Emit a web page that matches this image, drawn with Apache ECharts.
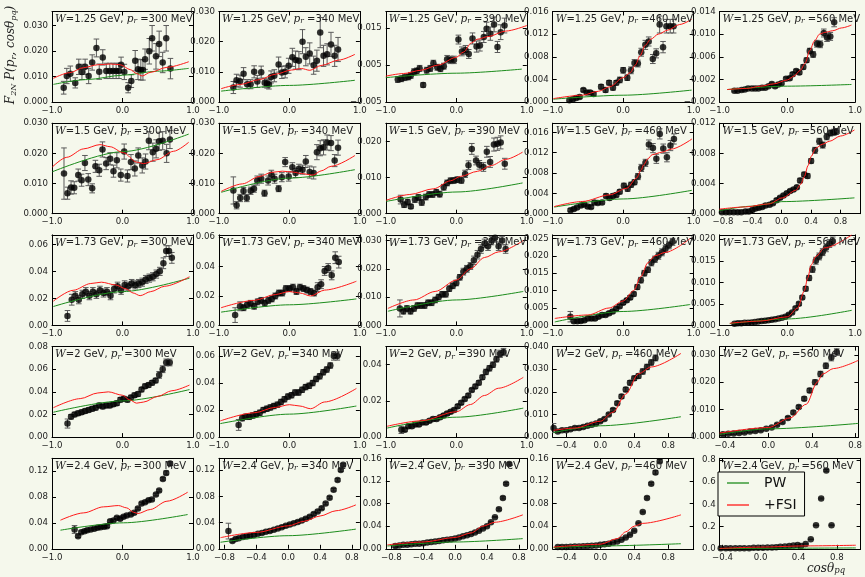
<!DOCTYPE html>
<html>
<head>
<meta charset="utf-8">
<script src="https://cdn.jsdelivr.net/npm/echarts@6/dist/echarts.min.js"></script>
<style>
html,body{margin:0;padding:0;background:#f5f8ec}
#chart{width:865px;height:577px}
</style>
</head>
<body>
<div id="chart"></div>
<script>
// Panel labels: rows are W, columns are p_r
const wLabels = ['1.25', '1.5', '1.73', '2', '2.4'];
const prLabels = ['300', '340', '390', '460', '560'];

// Tick sets
const T1 = [-1, 0, 1];
const T8 = [-0.8, -0.4, 0, 0.4, 0.8];
const T4 = [-0.4, 0, 0.4, 0.8];

const xTickValues = [
  T1, T1, T1, T1, T1,
  T1, T1, T1, T1, T8,
  T1, T1, T1, T1, T1,
  T1, T1, T1, T4, T4,
  T1, T8, T8, T4, T4
];
const xLimits = [
  [-1, 1], [-1, 1], [-1, 1], [-1, 1], [-1, 1],
  [-1, 1], [-1, 1], [-1, 1], [-1, 1], [-0.846, 1.074],
  [-1, 1], [-1, 1], [-1, 1], [-1, 1], [-1, 1],
  [-1, 1], [-1, 1], [-1, 1], [-0.56, 1.1], [-0.45, 0.83],
  [-1, 1], [-0.87, 0.9], [-0.87, 0.9], [-0.56, 1.1], [-0.43, 1.05]
];
const yTickValues = [
  [0, 0.01, 0.02, 0.03], [0, 0.01, 0.02, 0.03], [-0.005, 0.005, 0.015], [0, 0.004, 0.008, 0.012, 0.016], [-0.002, 0.002, 0.006, 0.01, 0.014],
  [0, 0.01, 0.02, 0.03], [0, 0.01, 0.02, 0.03], [0, 0.01, 0.02], [0, 0.004, 0.008, 0.012, 0.016], [0, 0.004, 0.008, 0.012],
  [0, 0.02, 0.04, 0.06], [0, 0.02, 0.04, 0.06], [0, 0.01, 0.02, 0.03], [0, 0.005, 0.01, 0.015, 0.02, 0.025], [0, 0.005, 0.01, 0.015, 0.02],
  [0, 0.02, 0.04, 0.06, 0.08], [0, 0.02, 0.04, 0.06], [0, 0.02, 0.04], [0, 0.01, 0.02, 0.03, 0.04], [0, 0.01, 0.02, 0.03],
  [0, 0.04, 0.08, 0.12], [0, 0.04, 0.08, 0.12], [0, 0.04, 0.08, 0.12, 0.16], [0, 0.04, 0.08, 0.12, 0.16], [0, 0.2, 0.4, 0.6, 0.8]
];
const yLimits = [
  [0, 0.0355], [0, 0.03], [-0.005, 0.0195], [0, 0.016], [-0.002, 0.014],
  [0, 0.03], [0, 0.03], [0, 0.025], [0, 0.0178], [0, 0.012],
  [0, 0.067], [0, 0.0615], [0, 0.032], [0, 0.026], [0, 0.021],
  [0, 0.08], [0, 0.067], [0, 0.05], [0, 0.04], [0, 0.033],
  [0, 0.14], [0, 0.138], [0, 0.16], [0, 0.16], [0, 0.815]
];
const yDecimals = [
  3, 3, 3, 3, 3,
  3, 3, 3, 3, 3,
  2, 2, 3, 3, 3,
  2, 2, 2, 3, 3,
  2, 2, 2, 2, 1
];

// Measured points: [cos theta_pq, value, error]
const obs_125_300 = [[-0.834,0.0056,0.0025],[-0.79,0.0102,0.003],[-0.74,0.0111,0.003],[-0.67,0.0075,0.002],[-0.62,0.0138,0.003],[-0.575,0.0118,0.003],[-0.53,0.0138,0.003],[-0.48,0.0102,0.003],[-0.43,0.0155,0.003],[-0.37,0.0212,0.0035],[-0.33,0.0119,0.003],[-0.28,0.0175,0.003],[-0.23,0.0122,0.003],[-0.18,0.0122,0.003],[-0.135,0.0122,0.003],[-0.09,0.0122,0.003],[-0.05,0.0122,0.003],[-0.02,0.0146,0.003],[0.026,0.0118,0.003],[0.08,0.0056,0.002],[0.125,0.0082,0.0025],[0.18,0.0162,0.004],[0.22,0.0128,0.004],[0.26,0.0126,0.004],[0.29,0.0126,0.004],[0.32,0.0168,0.004],[0.38,0.0199,0.005],[0.42,0.025,0.005],[0.475,0.0179,0.005],[0.52,0.0228,0.005],[0.57,0.0155,0.004],[0.62,0.025,0.005],[0.68,0.0131,0.004]];
const obs_125_340 = [[-0.795,0.0048,0.002],[-0.75,0.0072,0.002],[-0.7,0.0069,0.002],[-0.65,0.0094,0.002],[-0.6,0.0059,0.0015],[-0.55,0.0059,0.0015],[-0.5,0.01,0.002],[-0.455,0.0068,0.002],[-0.4,0.0099,0.002],[-0.35,0.0064,0.0015],[-0.316,0.0061,0.0015],[-0.29,0.0058,0.0015],[-0.26,0.0083,0.002],[-0.214,0.0087,0.002],[-0.153,0.0124,0.0025],[-0.107,0.0098,0.002],[-0.06,0.01,0.002],[-0.01,0.012,0.0025],[0.042,0.0148,0.003],[0.088,0.0139,0.003],[0.135,0.0137,0.003],[0.186,0.02,0.004],[0.233,0.015,0.003],[0.288,0.0161,0.0035],[0.344,0.0122,0.003],[0.39,0.0137,0.0035],[0.437,0.023,0.005],[0.484,0.0153,0.0035],[0.535,0.0158,0.0035],[0.59,0.0191,0.004],[0.642,0.0153,0.0035],[0.69,0.0174,0.004]];
const obs_125_390 = [[-0.83,0.0011,0.0008],[-0.78,0.0013,0.0008],[-0.73,0.0016,0.0008],[-0.68,0.0018,0.0008],[-0.646,0.0022,0.0008],[-0.6,0.0032,0.0008],[-0.56,0.0034,0.0008],[-0.52,0.0041,0.0008],[-0.47,-0.0004,0.0006],[-0.42,0.0036,0.0008],[-0.37,0.0041,0.0008],[-0.325,0.0055,0.0008],[-0.27,0.0044,0.0008],[-0.225,0.004,0.0008],[-0.177,0.0047,0.0008],[-0.13,0.0066,0.001],[-0.08,0.0064,0.001],[-0.033,0.0064,0.001],[0.03,0.0119,0.0012],[0.08,0.0087,0.0012],[0.13,0.0091,0.0012],[0.177,0.008,0.0012],[0.23,0.0122,0.0015],[0.287,0.01,0.0015],[0.335,0.0103,0.0015],[0.39,0.0126,0.0015],[0.43,0.0148,0.0018],[0.483,0.0135,0.0018],[0.536,0.016,0.002],[0.584,0.0099,0.0015],[0.63,0.0139,0.002],[0.684,0.0157,0.002]];
const obs_125_460 = [[-0.763,0.0003,0.0003],[-0.715,0.0005,0.0003],[-0.667,0.0007,0.0003],[-0.618,0.0009,0.0003],[-0.565,0.0021,0.0003],[-0.517,0.0017,0.0003],[-0.47,0.0017,0.0003],[-0.42,0.0014,0.0003],[-0.314,0.0027,0.0004],[-0.25,0.0021,0.0004],[-0.2,0.0034,0.0004],[-0.145,0.0025,0.0004],[-0.097,0.0034,0.0004],[-0.048,0.0039,0.0005],[0,0.0056,0.0005],[0.058,0.0043,0.0005],[0.11,0.0056,0.0006],[0.16,0.0069,0.0006],[0.208,0.0068,0.0006],[0.256,0.0088,0.0007],[0.314,0.0101,0.0008],[0.362,0.0107,0.0008],[0.42,0.0076,0.0008],[0.468,0.0086,0.0008],[0.517,0.0137,0.0015],[0.565,0.0097,0.001],[0.613,0.0134,0.0012],[0.667,0.0134,0.0012],[0.715,0.0134,0.0012]];
const obs_125_560 = [[-0.782,0,0.0002],[-0.734,0,0.0002],[-0.676,0.0001,0.0002],[-0.628,0.0002,0.0002],[-0.58,0.0004,0.0002],[-0.523,0.0004,0.0002],[-0.475,0.0004,0.0002],[-0.427,0.0004,0.0002],[-0.374,0.0005,0.0002],[-0.326,0.0005,0.0002],[-0.278,0.0008,0.0002],[-0.23,0.0012,0.0003],[-0.182,0.0008,0.0003],[-0.134,0.0011,0.0003],[-0.086,0.0013,0.0003],[-0.02,0.0021,0.0003],[0.034,0.0022,0.0003],[0.077,0.0029,0.0003],[0.13,0.0035,0.0003],[0.177,0.0032,0.0003],[0.235,0.0042,0.0004],[0.283,0.0054,0.0004],[0.33,0.007,0.0005],[0.38,0.0064,0.0005],[0.436,0.0083,0.0006],[0.484,0.0082,0.0006],[0.537,0.0102,0.0007],[0.585,0.0094,0.0007],[0.633,0.0096,0.0007],[0.69,0.0121,0.0008]];

const obs_15_300 = [[-0.83,0.0133,0.0085],[-0.78,0.0068,0.002],[-0.73,0.0087,0.0022],[-0.685,0.0086,0.002],[-0.628,0.0128,0.002],[-0.58,0.0111,0.002],[-0.533,0.0168,0.0025],[-0.486,0.0113,0.002],[-0.43,0.0084,0.0015],[-0.384,0.0157,0.002],[-0.33,0.0144,0.002],[-0.284,0.0213,0.0025],[-0.232,0.0166,0.002],[-0.175,0.0182,0.002],[-0.128,0.0141,0.002],[-0.08,0.0177,0.0025],[-0.024,0.0128,0.002],[0.024,0.0206,0.0025],[0.07,0.0125,0.002],[0.12,0.0171,0.0025],[0.175,0.015,0.0025],[0.223,0.0193,0.0025],[0.28,0.016,0.0025],[0.327,0.0173,0.0025],[0.374,0.0242,0.003],[0.43,0.0204,0.003],[0.477,0.0215,0.003],[0.52,0.024,0.003],[0.57,0.0242,0.003],[0.626,0.02,0.003],[0.673,0.0246,0.003]];
const obs_15_340 = [[-0.795,0.0077,0.0045],[-0.749,0.0028,0.0012],[-0.698,0.0052,0.0012],[-0.651,0.0075,0.0012],[-0.605,0.0052,0.0012],[-0.549,0.0076,0.0012],[-0.502,0.0083,0.0012],[-0.456,0.011,0.0015],[-0.4,0.0116,0.0015],[-0.353,0.0068,0.001],[-0.302,0.011,0.0015],[-0.256,0.0129,0.0015],[-0.21,0.0116,0.0015],[-0.153,0.0083,0.001],[-0.107,0.0121,0.0015],[-0.06,0.0171,0.0015],[-0.01,0.0123,0.0015],[0.042,0.0154,0.0015],[0.088,0.0135,0.0015],[0.135,0.0149,0.0015],[0.186,0.0146,0.0015],[0.233,0.0173,0.002],[0.288,0.0138,0.002],[0.344,0.0135,0.002],[0.39,0.0204,0.0025],[0.437,0.0217,0.0025],[0.484,0.022,0.0025],[0.535,0.0236,0.0025],[0.59,0.0234,0.0025],[0.642,0.0176,0.002],[0.69,0.0219,0.0025]];
const obs_15_390 = [[-0.79,0.0039,0.0012],[-0.74,0.0025,0.0008],[-0.69,0.0032,0.0008],[-0.645,0.002,0.0006],[-0.587,0.0039,0.0008],[-0.538,0.0045,0.0008],[-0.49,0.0031,0.0008],[-0.433,0.0046,0.0008],[-0.385,0.0053,0.0008],[-0.336,0.0053,0.0008],[-0.284,0.0059,0.0008],[-0.236,0.0054,0.0008],[-0.178,0.0073,0.0008],[-0.13,0.0085,0.0008],[-0.082,0.0091,0.0008],[-0.034,0.0092,0.0008],[0.014,0.0094,0.0008],[0.072,0.0092,0.0008],[0.125,0.011,0.001],[0.173,0.0134,0.0012],[0.22,0.0179,0.0015],[0.28,0.0147,0.0012],[0.327,0.0135,0.0012],[0.385,0.0129,0.0012],[0.433,0.0171,0.0015],[0.48,0.0143,0.0015],[0.534,0.0191,0.0018],[0.582,0.0193,0.0018],[0.63,0.0197,0.0018],[0.688,0.0138,0.0015]];
const obs_15_460 = [[-0.748,0.0007,0.0003],[-0.7,0.0009,0.0003],[-0.655,0.0012,0.0003],[-0.6,0.0016,0.0003],[-0.553,0.0018,0.0003],[-0.505,0.0014,0.0003],[-0.456,0.0013,0.0003],[-0.408,0.0022,0.0003],[-0.36,0.0021,0.0003],[-0.3,0.0022,0.0003],[-0.243,0.0035,0.0004],[-0.194,0.0031,0.0004],[-0.146,0.0035,0.0004],[-0.097,0.0037,0.0004],[-0.049,0.0043,0.0004],[0.01,0.0055,0.0005],[0.063,0.0049,0.0005],[0.112,0.0057,0.0005],[0.16,0.0062,0.0005],[0.209,0.0073,0.0006],[0.257,0.009,0.0007],[0.316,0.01,0.0007],[0.364,0.0136,0.0009],[0.422,0.0129,0.0009],[0.47,0.0108,0.0009],[0.519,0.0157,0.001],[0.568,0.0128,0.0009],[0.62,0.0111,0.0009],[0.67,0.0134,0.001],[0.72,0.0147,0.001]];
const obs_15_560 = [[-0.814,0.0002,0.0002],[-0.76,0.0002,0.0002],[-0.71,0.0002,0.0002],[-0.654,0.0002,0.0002],[-0.6,0.0002,0.0002],[-0.55,0.0002,0.0002],[-0.494,0.0003,0.0002],[-0.448,0.0003,0.0002],[-0.4,0.0005,0.0002],[-0.357,0.0007,0.0002],[-0.31,0.0008,0.0002],[-0.265,0.0009,0.0002],[-0.22,0.0011,0.0002],[-0.165,0.0012,0.0002],[-0.12,0.0014,0.0002],[-0.07,0.0018,0.0002],[-0.023,0.0021,0.0002],[0.023,0.0024,0.0002],[0.069,0.0027,0.0002],[0.114,0.003,0.0002],[0.16,0.0032,0.0002],[0.206,0.0035,0.0002],[0.25,0.0044,0.0003],[0.306,0.0052,0.0003],[0.352,0.005,0.0003],[0.4,0.007,0.0003],[0.453,0.0084,0.0004],[0.512,0.0096,0.0004],[0.558,0.0091,0.0004],[0.613,0.0102,0.0004],[0.663,0.0107,0.0004],[0.71,0.0108,0.0004],[0.74,0.0109,0.0004]];

const obs_173_300 = [[-0.78,0.007,0.004],[-0.72,0.019,0.004],[-0.67,0.022,0.003],[-0.62,0.019,0.003],[-0.57,0.023,0.003],[-0.52,0.025,0.003],[-0.47,0.022,0.003],[-0.42,0.025,0.003],[-0.37,0.023,0.003],[-0.32,0.026,0.003],[-0.27,0.024,0.003],[-0.22,0.025,0.003],[-0.17,0.022,0.003],[-0.12,0.027,0.003],[-0.07,0.029,0.003],[-0.02,0.026,0.003],[0.03,0.03,0.003],[0.08,0.029,0.003],[0.13,0.031,0.003],[0.18,0.03,0.003],[0.23,0.031,0.003],[0.28,0.032,0.003],[0.33,0.034,0.003],[0.38,0.035,0.003],[0.43,0.036,0.003],[0.48,0.038,0.003],[0.53,0.04,0.003],[0.58,0.046,0.004],[0.62,0.055,0.004],[0.66,0.055,0.004],[0.7,0.05,0.004]];
const obs_173_340 = [[-0.77,0.007,0.005],[-0.7,0.013,0.003],[-0.65,0.012,0.002],[-0.6,0.014,0.002],[-0.55,0.015,0.002],[-0.5,0.013,0.002],[-0.45,0.016,0.002],[-0.4,0.017,0.002],[-0.35,0.015,0.002],[-0.3,0.017,0.002],[-0.25,0.018,0.002],[-0.2,0.02,0.002],[-0.15,0.022,0.002],[-0.1,0.022,0.002],[-0.05,0.025,0.002],[0,0.025,0.002],[0.05,0.026,0.002],[0.1,0.023,0.002],[0.15,0.026,0.002],[0.2,0.025,0.002],[0.25,0.024,0.002],[0.3,0.023,0.002],[0.35,0.022,0.002],[0.4,0.026,0.003],[0.45,0.028,0.003],[0.5,0.037,0.003],[0.55,0.039,0.003],[0.6,0.034,0.003],[0.65,0.046,0.004],[0.7,0.043,0.004]];
const obs_173_390 = [[-0.8,0.006,0.003],[-0.75,0.005,0.001],[-0.7,0.006,0.001],[-0.65,0.005,0.001],[-0.6,0.006,0.001],[-0.55,0.007,0.001],[-0.5,0.007,0.001],[-0.45,0.007,0.001],[-0.4,0.008,0.001],[-0.35,0.008,0.001],[-0.3,0.009,0.001],[-0.25,0.01,0.001],[-0.2,0.011,0.001],[-0.15,0.011,0.001],[-0.1,0.013,0.001],[-0.05,0.014,0.001],[0,0.015,0.001],[0.05,0.017,0.001],[0.1,0.019,0.0012],[0.15,0.02,0.0012],[0.2,0.021,0.0012],[0.25,0.023,0.0015],[0.3,0.025,0.0015],[0.35,0.027,0.0015],[0.4,0.029,0.0015],[0.45,0.028,0.0015],[0.5,0.03,0.0015],[0.55,0.031,0.0015],[0.6,0.028,0.0015],[0.65,0.03,0.0015],[0.7,0.027,0.0015]];
const obs_173_460 = [[-0.75,0.0025,0.0015],[-0.7,0.0012,0.0005],[-0.65,0.0012,0.0005],[-0.6,0.0013,0.0005],[-0.55,0.0015,0.0005],[-0.5,0.002,0.0005],[-0.45,0.002,0.0005],[-0.4,0.002,0.0005],[-0.35,0.0025,0.0005],[-0.3,0.003,0.0005],[-0.25,0.003,0.0005],[-0.2,0.0035,0.0005],[-0.15,0.004,0.0005],[-0.1,0.0048,0.0005],[-0.05,0.0055,0.0005],[0,0.0065,0.0005],[0.05,0.0072,0.0005],[0.1,0.008,0.0006],[0.15,0.009,0.0006],[0.2,0.011,0.0007],[0.25,0.013,0.0008],[0.3,0.015,0.0008],[0.35,0.016,0.0008],[0.4,0.018,0.0009],[0.45,0.019,0.0009],[0.5,0.02,0.001],[0.55,0.021,0.001],[0.6,0.022,0.001],[0.65,0.023,0.001],[0.7,0.024,0.001]];
const obs_173_560 = [[-0.78,0.0004,0.0002],[-0.73,0.0005,0.0002],[-0.68,0.0005,0.0002],[-0.63,0.0006,0.0002],[-0.58,0.0006,0.0002],[-0.53,0.0007,0.0002],[-0.48,0.0008,0.0002],[-0.43,0.0009,0.0002],[-0.38,0.001,0.0002],[-0.33,0.0011,0.0002],[-0.28,0.0012,0.0002],[-0.23,0.0013,0.0002],[-0.18,0.0014,0.0002],[-0.13,0.0016,0.0002],[-0.08,0.0018,0.0002],[-0.03,0.002,0.0002],[0.02,0.0025,0.0003],[0.07,0.003,0.0003],[0.12,0.004,0.0003],[0.17,0.005,0.0004],[0.22,0.0065,0.0004],[0.27,0.0085,0.0005],[0.32,0.011,0.0006],[0.37,0.013,0.0007],[0.42,0.015,0.0008],[0.47,0.016,0.0008],[0.52,0.017,0.0008],[0.57,0.018,0.0009],[0.62,0.019,0.0009],[0.67,0.0195,0.001]];

const obs_2_300 = [[-0.78,0.012,0.004],[-0.73,0.018,0.002],[-0.68,0.02,0.002],[-0.63,0.021,0.002],[-0.58,0.022,0.002],[-0.53,0.023,0.002],[-0.48,0.024,0.002],[-0.43,0.025,0.002],[-0.38,0.026,0.002],[-0.33,0.028,0.002],[-0.28,0.027,0.002],[-0.23,0.028,0.002],[-0.18,0.028,0.002],[-0.13,0.029,0.002],[-0.08,0.03,0.002],[-0.03,0.033,0.002],[0.02,0.034,0.002],[0.07,0.033,0.002],[0.12,0.035,0.002],[0.17,0.037,0.002],[0.22,0.038,0.002],[0.27,0.042,0.002],[0.32,0.045,0.002],[0.37,0.046,0.002],[0.42,0.048,0.002],[0.47,0.05,0.002],[0.52,0.055,0.003],[0.57,0.06,0.003],[0.62,0.066,0.003],[0.67,0.066,0.003]];
const obs_2_340 = [[-0.72,0.009,0.004],[-0.67,0.014,0.002],[-0.62,0.015,0.002],[-0.57,0.015,0.002],[-0.52,0.016,0.002],[-0.47,0.017,0.002],[-0.42,0.018,0.002],[-0.37,0.02,0.002],[-0.32,0.021,0.002],[-0.27,0.022,0.002],[-0.22,0.023,0.002],[-0.17,0.024,0.002],[-0.12,0.026,0.002],[-0.07,0.028,0.002],[-0.02,0.03,0.002],[0.03,0.031,0.002],[0.08,0.033,0.002],[0.13,0.033,0.002],[0.18,0.035,0.002],[0.23,0.037,0.002],[0.28,0.038,0.002],[0.33,0.04,0.002],[0.38,0.043,0.002],[0.43,0.045,0.002],[0.48,0.048,0.002],[0.53,0.05,0.002],[0.58,0.053,0.002],[0.63,0.06,0.003],[0.68,0.06,0.003]];
const obs_2_390 = [[-0.78,0.004,0.002],[-0.73,0.004,0.001],[-0.68,0.006,0.001],[-0.63,0.006,0.001],[-0.58,0.007,0.001],[-0.53,0.007,0.001],[-0.48,0.008,0.001],[-0.43,0.008,0.001],[-0.38,0.009,0.001],[-0.33,0.01,0.001],[-0.28,0.01,0.001],[-0.23,0.011,0.001],[-0.18,0.012,0.001],[-0.13,0.013,0.001],[-0.08,0.014,0.001],[-0.03,0.015,0.001],[0.02,0.017,0.001],[0.07,0.019,0.001],[0.12,0.021,0.001],[0.17,0.023,0.001],[0.22,0.026,0.001],[0.27,0.028,0.0012],[0.32,0.03,0.0012],[0.37,0.033,0.0012],[0.42,0.036,0.0015],[0.47,0.038,0.0015],[0.52,0.04,0.0015],[0.57,0.043,0.0015],[0.62,0.046,0.002],[0.67,0.047,0.002]];
const obs_2_460 = [[-0.55,0.004,0.002],[-0.5,0.0025,0.0005],[-0.45,0.003,0.0005],[-0.4,0.003,0.0005],[-0.35,0.0035,0.0005],[-0.3,0.004,0.0005],[-0.25,0.004,0.0005],[-0.2,0.0045,0.0005],[-0.15,0.005,0.0005],[-0.1,0.0055,0.0005],[-0.05,0.006,0.0005],[0,0.007,0.0005],[0.05,0.008,0.0006],[0.1,0.01,0.0006],[0.15,0.012,0.0007],[0.2,0.015,0.0008],[0.25,0.018,0.0009],[0.3,0.021,0.001],[0.35,0.024,0.001],[0.4,0.026,0.001],[0.45,0.027,0.001],[0.5,0.029,0.0012],[0.55,0.031,0.0012],[0.6,0.033,0.0012],[0.65,0.035,0.0013]];
const obs_2_560 = [[-0.42,0.001,0.0004],[-0.37,0.0012,0.0003],[-0.32,0.0013,0.0003],[-0.27,0.0015,0.0003],[-0.22,0.0017,0.0003],[-0.17,0.002,0.0003],[-0.12,0.0022,0.0003],[-0.07,0.0025,0.0003],[-0.02,0.003,0.0003],[0.03,0.0035,0.0003],[0.08,0.0045,0.0004],[0.13,0.0055,0.0004],[0.18,0.007,0.0005],[0.23,0.009,0.0006],[0.28,0.011,0.0006],[0.33,0.014,0.0007],[0.38,0.017,0.0008],[0.43,0.02,0.0009],[0.48,0.023,0.001],[0.53,0.026,0.001],[0.58,0.029,0.0012],[0.63,0.031,0.0012]];

const obs_24_300 = [[-0.68,0.0299,0.006],[-0.63,0.0196,0.002],[-0.585,0.0257,0.002],[-0.54,0.0273,0.002],[-0.5,0.0288,0.002],[-0.45,0.0299,0.002],[-0.4,0.0309,0.002],[-0.354,0.0324,0.002],[-0.31,0.0335,0.002],[-0.26,0.034,0.002],[-0.22,0.035,0.002],[-0.175,0.0427,0.002],[-0.128,0.0438,0.002],[-0.08,0.0479,0.002],[-0.033,0.0463,0.002],[0.014,0.0494,0.002],[0.06,0.0515,0.002],[0.118,0.053,0.002],[0.166,0.0556,0.002],[0.218,0.0623,0.002],[0.27,0.07,0.002],[0.32,0.0721,0.002],[0.37,0.0752,0.002],[0.417,0.0762,0.002],[0.474,0.0839,0.002],[0.52,0.0901,0.002],[0.573,0.108,0.002],[0.62,0.1174,0.003],[0.675,0.1318,0.003]];
const obs_24_340 = [[-0.75,0.027,0.012],[-0.7,0.012,0.002],[-0.66,0.015,0.002],[-0.62,0.016,0.002],[-0.57,0.018,0.002],[-0.52,0.019,0.002],[-0.48,0.02,0.002],[-0.43,0.021,0.002],[-0.38,0.023,0.002],[-0.33,0.024,0.002],[-0.28,0.026,0.002],[-0.23,0.027,0.002],[-0.18,0.029,0.002],[-0.13,0.031,0.002],[-0.08,0.033,0.002],[-0.03,0.035,0.002],[0.02,0.037,0.002],[0.07,0.039,0.002],[0.12,0.041,0.002],[0.17,0.043,0.002],[0.22,0.046,0.002],[0.27,0.049,0.002],[0.32,0.053,0.002],[0.37,0.057,0.002],[0.42,0.062,0.002],[0.47,0.069,0.002],[0.52,0.078,0.002],[0.57,0.09,0.002],[0.62,0.105,0.002],[0.66,0.12,0.002],[0.69,0.128,0.002]];
const obs_24_390 = [[-0.75,0.005,0.003],[-0.7,0.006,0.001],[-0.65,0.007,0.001],[-0.6,0.007,0.001],[-0.55,0.008,0.001],[-0.5,0.009,0.001],[-0.45,0.009,0.001],[-0.4,0.01,0.001],[-0.35,0.011,0.001],[-0.3,0.012,0.001],[-0.25,0.013,0.001],[-0.2,0.014,0.001],[-0.15,0.015,0.001],[-0.1,0.016,0.001],[-0.05,0.017,0.001],[0,0.018,0.001],[0.05,0.02,0.001],[0.1,0.022,0.001],[0.15,0.024,0.001],[0.2,0.026,0.001],[0.25,0.029,0.001],[0.3,0.032,0.001],[0.35,0.036,0.001],[0.4,0.04,0.001],[0.45,0.047,0.001],[0.5,0.056,0.001],[0.55,0.07,0.002],[0.6,0.09,0.002],[0.64,0.115,0.002],[0.68,0.15,0.002]];
const obs_24_460 = [[-0.5,0.003,0.001],[-0.45,0.003,0.0005],[-0.4,0.003,0.0005],[-0.35,0.0035,0.0005],[-0.3,0.004,0.0005],[-0.25,0.004,0.0005],[-0.2,0.0045,0.0005],[-0.15,0.005,0.0005],[-0.1,0.0055,0.0005],[-0.05,0.006,0.0005],[0,0.007,0.0005],[0.05,0.008,0.0005],[0.1,0.009,0.0005],[0.15,0.011,0.0005],[0.2,0.013,0.0006],[0.25,0.016,0.0006],[0.3,0.02,0.0007],[0.35,0.025,0.0008],[0.4,0.032,0.001],[0.45,0.045,0.001],[0.5,0.065,0.0015],[0.55,0.09,0.002],[0.6,0.115,0.002],[0.65,0.135,0.003],[0.7,0.155,0.003]];
const obs_24_560 = [[-0.418,0.006,0.001],[-0.364,0.006,0.001],[-0.316,0.006,0.001],[-0.265,0.006,0.001],[-0.218,0.006,0.001],[-0.171,0.006,0.001],[-0.12,0.006,0.001],[-0.073,0.009,0.001],[-0.025,0.009,0.001],[0.025,0.009,0.001],[0.073,0.012,0.001],[0.12,0.012,0.001],[0.164,0.015,0.001],[0.207,0.018,0.001],[0.255,0.02,0.001],[0.302,0.026,0.001],[0.345,0.029,0.001],[0.389,0.035,0.001],[0.425,0.026,0.001],[0.473,0.044,0.001],[0.527,0.085,0.002],[0.582,0.212,0.003],[0.636,0.453,0.005],[0.69,0.706,0.008],[0.745,0.212,0.004]];

// Plane-wave (PW) calculation: [cos theta_pq, value]
const pw_125_300 = [[-0.98,0.0069],[-0.5,0.0088],[0,0.0105],[0.5,0.0121],[0.94,0.0132]];
const pw_125_340 = [[-0.97,0.0036],[0,0.0055],[0.93,0.0072]];
const pw_125_390 = [[-1,0.0016],[0,0.0028],[0.93,0.0039]];
const pw_125_460 = [[-0.99,0.0005],[0,0.0012],[0.97,0.0021]];
const pw_125_560 = [[-0.89,0.0002],[0,0.0008],[0.945,0.0011]];
const pw_15_300 = [[-0.995,0.0139],[0.014,0.0206],[0.94,0.0264]];
const pw_15_340 = [[-0.967,0.0071],[0,0.0118],[0.93,0.0146]];
const pw_15_390 = [[-0.995,0.0034],[0.01,0.006],[0.94,0.0085]];
const pw_15_460 = [[-0.98,0.0013],[0,0.0029],[0.975,0.0046]];
const pw_15_560 = [[-0.85,0.0004],[-0.4,0.001],[0,0.0016],[0.99,0.0021]];
const pw_173_300 = [[-0.98,0.014],[0,0.025],[0.95,0.035]];
const pw_173_340 = [[-0.97,0.009],[0,0.014],[0.95,0.018]];
const pw_173_390 = [[-0.97,0.005],[0,0.009],[0.95,0.012]];
const pw_173_460 = [[-0.97,0.001],[0,0.004],[0.95,0.006]];
const pw_173_560 = [[-0.85,0.0004],[0,0.0015],[0.95,0.0035]];
const pw_2_300 = [[-0.98,0.022],[0,0.032],[0.95,0.042]];
const pw_2_340 = [[-0.98,0.01],[0,0.017],[0.95,0.023]];
const pw_2_390 = [[-0.98,0.005],[0,0.011],[0.95,0.016]];
const pw_2_460 = [[-0.55,0.002],[0,0.005],[0.95,0.009]];
const pw_2_560 = [[-0.45,0.001],[0,0.003],[0.83,0.005]];
const pw_24_300 = [[-0.88,0.0288],[0.014,0.0402],[0.924,0.053]];
const pw_24_340 = [[-0.85,0.01],[0,0.02],[0.85,0.03]];
const pw_24_390 = [[-0.85,0.005],[0,0.012],[0.85,0.018]];
const pw_24_460 = [[-0.55,0.002],[0,0.005],[0.95,0.009]];
const pw_24_560 = [[-0.43,0.002],[1,0.008]];

// PW plus final-state interaction (+FSI): [cos theta_pq, value]
const fsi_125_300 = [[-0.98,0.0093],[-0.75,0.0115],[-0.55,0.0135],[-0.35,0.0146],[-0.17,0.0149],[-0.03,0.0146],[0.11,0.0127],[0.2,0.0112],[0.28,0.0102],[0.39,0.0116],[0.63,0.0136],[0.94,0.0158]];
const fsi_125_340 = [[-0.97,0.0044],[-0.7,0.0058],[-0.43,0.0074],[-0.2,0.0092],[0.03,0.0106],[0.17,0.0111],[0.29,0.0105],[0.45,0.0121],[0.7,0.0139],[0.93,0.0158]];
const fsi_125_390 = [[-1,0.002],[-0.75,0.0027],[-0.5,0.0036],[-0.26,0.005],[0,0.0071],[0.1,0.0085],[0.215,0.011],[0.3,0.012],[0.45,0.0127],[0.7,0.0142],[1,0.0157]];
const fsi_125_460 = [[-0.99,0.0006],[-0.58,0.0012],[-0.35,0.0019],[-0.19,0.0027],[0,0.0043],[0.1,0.0052],[0.17,0.0065],[0.24,0.0082],[0.31,0.01],[0.39,0.0111],[0.5,0.012],[0.63,0.0127],[0.8,0.0137],[0.97,0.0146]];
const fsi_125_560 = [[-0.89,0.0002],[-0.6,0.0004],[-0.39,0.0008],[-0.2,0.0012],[0,0.0019],[0.1,0.0026],[0.19,0.0036],[0.26,0.0048],[0.33,0.0071],[0.4,0.0088],[0.475,0.01],[0.55,0.0103],[0.67,0.0106],[0.8,0.0111],[0.945,0.0116]];
const fsi_15_300 = [[-0.995,0.0155],[-0.79,0.0187],[-0.55,0.0215],[-0.32,0.0229],[-0.175,0.0222],[0.014,0.0202],[0.2,0.0171],[0.3,0.0166],[0.49,0.0179],[0.725,0.0207],[0.94,0.0237]];
const fsi_15_340 = [[-0.967,0.0074],[-0.665,0.0099],[-0.43,0.0123],[-0.25,0.0137],[-0.1,0.0141],[0.05,0.0138],[0.17,0.0133],[0.335,0.0128],[0.45,0.0142],[0.59,0.0157],[0.93,0.0193]];
const fsi_15_390 = [[-0.995,0.0037],[-0.66,0.0053],[-0.32,0.0069],[-0.08,0.0091],[0.06,0.0103],[0.3,0.0117],[0.495,0.0133],[0.7,0.015],[0.94,0.017]];
const fsi_15_460 = [[-0.98,0.0014],[-0.58,0.0024],[-0.194,0.0037],[0.05,0.005],[0.19,0.007],[0.25,0.0085],[0.29,0.0096],[0.35,0.0108],[0.41,0.0116],[0.55,0.0121],[0.68,0.0127],[0.975,0.0147]];
const fsi_15_560 = [[-0.85,0.0006],[-0.494,0.0009],[-0.174,0.0013],[0.01,0.0021],[0.19,0.0031],[0.26,0.0039],[0.306,0.0049],[0.36,0.0064],[0.4,0.0076],[0.466,0.0087],[0.55,0.0092],[0.65,0.0096],[0.8,0.0103],[0.99,0.0111]];
const fsi_173_300 = [[-0.98,0.018],[-0.7,0.026],[-0.45,0.031],[-0.3,0.032],[-0.1,0.03],[0.05,0.027],[0.15,0.024],[0.25,0.022],[0.4,0.025],[0.6,0.029],[0.95,0.036]];
const fsi_173_340 = [[-0.97,0.012],[-0.5,0.017],[-0.2,0.021],[0,0.023],[0.15,0.022],[0.3,0.02],[0.5,0.024],[0.95,0.03]];
const fsi_173_390 = [[-0.97,0.006],[-0.6,0.009],[-0.3,0.012],[0,0.016],[0.2,0.02],[0.4,0.024],[0.6,0.026],[0.95,0.03]];
const fsi_173_460 = [[-0.97,0.002],[-0.5,0.003],[-0.2,0.005],[0,0.007],[0.15,0.01],[0.25,0.014],[0.35,0.018],[0.45,0.02],[0.6,0.021],[0.95,0.025]];
const fsi_173_560 = [[-0.85,0.0005],[-0.4,0.001],[0,0.002],[0.15,0.004],[0.25,0.008],[0.3,0.011],[0.35,0.014],[0.42,0.016],[0.55,0.018],[0.95,0.021]];
const fsi_2_300 = [[-0.98,0.026],[-0.6,0.034],[-0.35,0.039],[-0.2,0.04],[0,0.037],[0.1,0.033],[0.2,0.03],[0.3,0.031],[0.5,0.036],[0.7,0.041],[0.95,0.046]];
const fsi_2_340 = [[-0.98,0.012],[-0.5,0.018],[-0.2,0.022],[0,0.024],[0.15,0.023],[0.3,0.021],[0.5,0.026],[0.95,0.036]];
const fsi_2_390 = [[-0.98,0.006],[-0.5,0.009],[0,0.014],[0.2,0.018],[0.4,0.023],[0.6,0.027],[0.95,0.033]];
const fsi_2_460 = [[-0.55,0.003],[-0.3,0.004],[0,0.007],[0.15,0.011],[0.3,0.019],[0.45,0.028],[0.6,0.031],[0.95,0.037]];
const fsi_2_560 = [[-0.45,0.0015],[0,0.0035],[0.2,0.007],[0.35,0.012],[0.45,0.02],[0.5,0.023],[0.6,0.025],[0.83,0.028]];
const fsi_24_300 = [[-0.88,0.0443],[-0.55,0.0556],[-0.27,0.0649],[-0.057,0.0669],[0.06,0.0633],[0.155,0.0566],[0.218,0.0546],[0.394,0.0608],[0.63,0.0736],[0.924,0.0875]];
const fsi_24_340 = [[-0.85,0.017],[-0.4,0.025],[0,0.035],[0.2,0.042],[0.4,0.05],[0.6,0.058],[0.85,0.067]];
const fsi_24_390 = [[-0.85,0.007],[-0.4,0.012],[0,0.02],[0.2,0.028],[0.35,0.04],[0.5,0.047],[0.85,0.06]];
const fsi_24_460 = [[-0.55,0.003],[0,0.008],[0.2,0.018],[0.3,0.03],[0.4,0.04],[0.5,0.045],[0.95,0.06]];
const fsi_24_560 = [[-0.43,0.003],[0,0.015],[0.45,0.026],[1,0.032]];

const observed = [
  obs_125_300, obs_125_340, obs_125_390, obs_125_460, obs_125_560,
  obs_15_300, obs_15_340, obs_15_390, obs_15_460, obs_15_560,
  obs_173_300, obs_173_340, obs_173_390, obs_173_460, obs_173_560,
  obs_2_300, obs_2_340, obs_2_390, obs_2_460, obs_2_560,
  obs_24_300, obs_24_340, obs_24_390, obs_24_460, obs_24_560
];
const planeWave = [
  pw_125_300, pw_125_340, pw_125_390, pw_125_460, pw_125_560,
  pw_15_300, pw_15_340, pw_15_390, pw_15_460, pw_15_560,
  pw_173_300, pw_173_340, pw_173_390, pw_173_460, pw_173_560,
  pw_2_300, pw_2_340, pw_2_390, pw_2_460, pw_2_560,
  pw_24_300, pw_24_340, pw_24_390, pw_24_460, pw_24_560
];
const withFsi = [
  fsi_125_300, fsi_125_340, fsi_125_390, fsi_125_460, fsi_125_560,
  fsi_15_300, fsi_15_340, fsi_15_390, fsi_15_460, fsi_15_560,
  fsi_173_300, fsi_173_340, fsi_173_390, fsi_173_460, fsi_173_560,
  fsi_2_300, fsi_2_340, fsi_2_390, fsi_2_460, fsi_2_560,
  fsi_24_300, fsi_24_340, fsi_24_390, fsi_24_460, fsi_24_560
];

// ---- layout & styling ----
const BG = '#f5f8ec';
const PANEL_LEFT = 52, PANEL_STEP_X = 166.9, PANEL_W = 141;
const PANEL_TOP = 11.5, PANEL_STEP_Y = 111.7, PANEL_H = 90.5;
const GREEN = '#1c8c1c', RED = '#ff1a1a';
const TICK_FONT = 'DejaVu Sans';
const MATH_FONT = 'DejaVu Serif';

function fmt(v, dec) {
  let s = v.toFixed(dec);
  if (/^-0\.?0*$/.test(s)) s = s.slice(1);
  return s.replace('-', '\u2212');
}

function makeAxis(gridIndex, position, range, ticks, dec, showLabel) {
  return {
    type: 'value', gridIndex, position, min: range[0], max: range[1],
    axisLine: { show: true, onZero: false, lineStyle: { color: '#000', width: 1 } },
    axisTick: { show: true, inside: true, length: 4, customValues: ticks, lineStyle: { color: '#000', width: 1 } },
    axisLabel: {
      show: showLabel, customValues: ticks, formatter: v => fmt(v, dec),
      fontFamily: TICK_FONT, fontSize: 8.6, color: '#222', margin: 4
    },
    splitLine: { show: false }
  };
}

function renderErrorBar(params, api) {
  const x = api.value(0), y = api.value(1), e = api.value(2);
  const hi = api.coord([x, y + e]);
  const lo = api.coord([x, y - e]);
  const cap = 2.8;
  const style = { stroke: '#5a5a5a', lineWidth: 1, fill: null };
  return {
    type: 'group',
    children: [
      { type: 'line', shape: { x1: hi[0], y1: hi[1], x2: lo[0], y2: lo[1] }, style },
      { type: 'line', shape: { x1: hi[0] - cap, y1: hi[1], x2: hi[0] + cap, y2: hi[1] }, style },
      { type: 'line', shape: { x1: lo[0] - cap, y1: lo[1], x2: lo[0] + cap, y2: lo[1] }, style }
    ]
  };
}

const option = {
  animation: false,
  backgroundColor: BG,
  grid: [], xAxis: [], yAxis: [], series: [], title: [],
  legend: {
    show: true, orient: 'vertical', left: 718, top: 472,
    data: [{ name: 'PW', icon: 'rect' }, { name: '+FSI', icon: 'rect' }],
    selectedMode: false,
    itemWidth: 22, itemHeight: 1.3, itemGap: 6,
    padding: [3, 8, 3, 9],
    backgroundColor: BG, borderColor: '#000', borderWidth: 1, borderRadius: 0,
    textStyle: { fontFamily: TICK_FONT, fontSize: 14, lineHeight: 16, color: '#111', padding: [0, 0, 0, 10] },
    z: 20
  },
  graphic: []
};

for (let r = 0; r < 5; r++) {
  for (let c = 0; c < 5; c++) {
    const k = r * 5 + c;
    const left = PANEL_LEFT + c * PANEL_STEP_X;
    const top = PANEL_TOP + r * PANEL_STEP_Y;
    option.grid.push({ left, top, width: PANEL_W, height: PANEL_H, show: false });

    option.xAxis.push(makeAxis(k, 'bottom', xLimits[k], xTickValues[k], 1, true));
    option.xAxis.push(makeAxis(k, 'top', xLimits[k], xTickValues[k], 1, false));
    option.yAxis.push(makeAxis(k, 'left', yLimits[k], yTickValues[k], yDecimals[k], true));
    option.yAxis.push(makeAxis(k, 'right', yLimits[k], yTickValues[k], yDecimals[k], false));

    const xi = 2 * k, yi = 2 * k;
    option.series.push({
      type: 'custom', xAxisIndex: xi, yAxisIndex: yi,
      data: observed[k], renderItem: renderErrorBar,
      encode: { x: 0, y: 1 }, clip: true, z: 2, silent: true
    });
    option.series.push({
      type: 'scatter', xAxisIndex: xi, yAxisIndex: yi,
      data: observed[k], encode: { x: 0, y: 1 },
      symbol: 'circle', symbolSize: 6.5, itemStyle: { color: '#000' }, z: 3, silent: true
    });
    option.series.push({
      type: 'line', name: 'PW', xAxisIndex: xi, yAxisIndex: yi,
      data: planeWave[k], showSymbol: false, symbol: 'none',
      smooth: 0.3, smoothMonotone: 'x',
      lineStyle: { color: GREEN, width: 1 }, itemStyle: { color: GREEN }, z: 4, silent: true
    });
    option.series.push({
      type: 'line', name: '+FSI', xAxisIndex: xi, yAxisIndex: yi,
      data: withFsi[k], showSymbol: false, symbol: 'none',
      smooth: 0.3, smoothMonotone: 'x',
      lineStyle: { color: RED, width: 1 }, itemStyle: { color: RED }, z: 4, silent: true
    });

    option.title.push({
      text: '{i|W}=' + wLabels[r] + ' GeV, {i|p}{s|r} =' + prLabels[c] + ' MeV',
      left: left + 3, top: top + 2, padding: 0,
      textStyle: {
        fontFamily: TICK_FONT, fontSize: 10, fontWeight: 'normal', color: '#222',
        rich: {
          i: { fontFamily: MATH_FONT, fontStyle: 'italic', fontSize: 10.5, color: '#222' },
          s: { fontFamily: MATH_FONT, fontStyle: 'italic', fontSize: 7.5, color: '#222', verticalAlign: 'bottom', padding: [4, 0, 0, 0] }
        }
      }
    });
  }
}

// y-axis title (rotated) and x-axis title
option.graphic.push({
  type: 'text', x: 11, y: 55, rotation: Math.PI / 2,
  style: {
    text: '{i|F}{s|2N}{i| P(p}{s|r}{i|, cos\u03b8}{s|pq}{i|)}',
    align: 'center', verticalAlign: 'middle',
    rich: {
      i: { fontFamily: MATH_FONT, fontStyle: 'italic', fontSize: 12, fill: '#222' },
      s: { fontFamily: MATH_FONT, fontStyle: 'italic', fontSize: 8, fill: '#222', verticalAlign: 'bottom', padding: [5, 0, 0, 0] }
    }
  }
});
option.graphic.push({
  type: 'text', x: 826, y: 569,
  style: {
    text: '{i|cos\u03b8}{s|pq}',
    align: 'center', verticalAlign: 'middle',
    rich: {
      i: { fontFamily: MATH_FONT, fontStyle: 'italic', fontSize: 12, fill: '#222' },
      s: { fontFamily: MATH_FONT, fontStyle: 'italic', fontSize: 8.5, fill: '#222', verticalAlign: 'bottom', padding: [4, 0, 0, 0] }
    }
  }
});

const chart = echarts.init(document.getElementById('chart'));
chart.setOption(option);
</script>
</body>
</html>
